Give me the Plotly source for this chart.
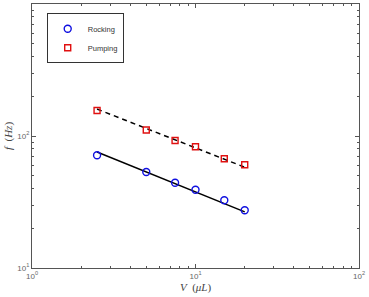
import plotly.graph_objects as go

V = [2.5, 5, 7.5, 10, 15, 20]
f_rocking = [71.4, 53.4, 44.2, 39.2, 32.6, 27.4]
f_pumping = [156, 111, 92.5, 83, 67.3, 60.5]
fit_V = [2.5, 20]
fit_rocking = [75.7, 26.6]
fit_pumping = [160, 58.0]
tick_vals = [1, 10, 100]
x_tick_text = ["10<sup>0</sup>", "10<sup>1</sup>", "10<sup>2</sup>"]
y_tick_vals = [10, 100, 1000]
y_tick_text = ["10<sup>1</sup>", "10<sup>2</sup>", "10<sup>3</sup>"]

fig = go.Figure()
fig.add_trace(go.Scatter(x=fit_V, y=fit_rocking, mode="lines",
                         line=dict(color="black", width=1.5), showlegend=False))
fig.add_trace(go.Scatter(x=fit_V, y=fit_pumping, mode="lines",
                         line=dict(color="black", width=1.5, dash="5px,4px"), showlegend=False))
fig.add_trace(go.Scatter(x=V, y=f_rocking, mode="markers", name="Rocking",
                         marker=dict(symbol="circle-open", size=7, color="#1010e0",
                                     line=dict(width=1.4))))
fig.add_trace(go.Scatter(x=V, y=f_pumping, mode="markers", name="Pumping",
                         marker=dict(symbol="square-open", size=6, color="#e01010",
                                     line=dict(width=1.4))))
# invisible trace so that the mirrored (top/right) axes are drawn with their minor ticks
fig.add_trace(go.Scatter(x=V, y=f_rocking, mode="markers", xaxis="x2", yaxis="y2",
                         marker=dict(opacity=0), showlegend=False, hoverinfo="skip"))

minor = dict(ticks="inside", ticklen=2, tickcolor="#555", showgrid=False, dtick="D1")
axis_common = dict(showgrid=False, zeroline=False, showline=True, linecolor="#555",
                   linewidth=1, ticks="inside", ticklen=4, tickcolor="#555", minor=minor)
tickfont = dict(family="Liberation Sans", size=8, color="#666")

fig.update_layout(
    xaxis=dict(type="log", range=[0, 2], tickvals=tick_vals, ticktext=x_tick_text,
               tickfont=tickfont,
               title=dict(text="<i>V</i>  (<i>μL</i>)", standoff=2,
                          font=dict(family="Liberation Serif", size=11, color="#444")),
               **axis_common),
    yaxis=dict(type="log", range=[1, 3], tickvals=y_tick_vals, ticktext=y_tick_text,
               tickfont=tickfont,
               title=dict(text="<i>f</i>  (<i>Hz</i>)", standoff=2,
                          font=dict(family="Liberation Serif", size=11, color="#444")),
               **axis_common),
    xaxis2=dict(type="log", range=[0, 2], overlaying="x", side="top", anchor="y2",
                tickvals=tick_vals, showticklabels=False, **axis_common),
    yaxis2=dict(type="log", range=[1, 3], overlaying="y", side="right", anchor="x2",
                tickvals=y_tick_vals, showticklabels=False, **axis_common),
    width=369, height=297,
    margin=dict(l=32, r=7, t=4, b=29),
    plot_bgcolor="white", paper_bgcolor="white",
    legend=dict(x=0.045, y=0.965, xanchor="left", yanchor="top",
                bordercolor="#333", borderwidth=1, bgcolor="white",
                font=dict(family="Liberation Sans", size=7.5, color="#333"),
                itemwidth=30, tracegroupgap=0),
)
fig.write_html("out.html")
